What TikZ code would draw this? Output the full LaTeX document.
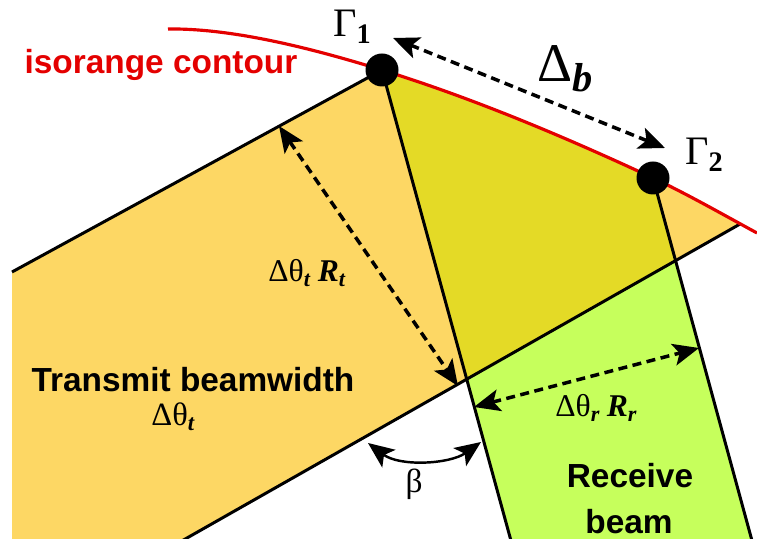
\documentclass[tikz,border=0pt]{standalone}
\usepackage{fontspec}
\setmainfont{Liberation Serif}
\setsansfont{Liberation Sans}
\usetikzlibrary{arrows.meta}

\definecolor{isored}{RGB}{228,0,0}
\definecolor{txfill}{RGB}{253,215,100}
\definecolor{ovfill}{RGB}{228,218,38}
\definecolor{rxfill}{RGB}{198,255,92}

\newcommand{\bisym}[1]{\textbf{\textit{#1}}}
\newcommand{\isorangepath}{(168,510) .. controls (240,511) and (330,485) .. (G1)
    .. controls (472,441) and (563,403) .. (G2) .. controls (688,344.5) and (722,325) .. (757,306)}

\begin{document}
\begin{tikzpicture}[x=0.2mm,y=0.2mm,>={Stealth[length=5.2mm,width=4.4mm,inset=1.2mm]},line join=round,
    edge/.style={line width=1.7pt},
    dimarrow/.style={<->,line width=2pt,dash pattern=on 1.8mm off 1.1mm},
    dot/.style={circle,fill=black,minimum size=6.6mm,inner sep=0pt},
    sanslbl/.style={font=\fontsize{19}{22}\selectfont\sffamily\bfseries,inner sep=0pt},
    greeklbl/.style={font=\fontsize{#1}{#1}\selectfont,inner sep=0pt}]
    \useasboundingbox (0,0) rectangle (757,539);

    % beam edges
    \coordinate (G1) at (382,469);
    \coordinate (G2) at (653,361);
    \coordinate (ul) at (12,267);
    \coordinate (ue) at (800,697);
    \coordinate (lb) at (150,-20);
    \coordinate (le) at (800,349);
    \coordinate (r1t) at (327,669);
    \coordinate (r1b) at (516,-20);
    \coordinate (r2t) at (598,561);
    \coordinate (r2b) at (757,-20);

    \begin{scope}
        \clip \isorangepath -- (800,306) -- (800,-50) -- (-50,-50) -- (-50,510) -- cycle;
        \fill[txfill] (12,-20) -- (ul) -- (ue) -- (le) -- (lb) -- cycle;
        \fill[rxfill] (r1t) -- (r2t) -- (r2b) -- (r1b) -- cycle;
        \begin{scope}
            \clip (12,-20) -- (ul) -- (ue) -- (le) -- (lb) -- cycle;
            \fill[ovfill] (r1t) -- (r2t) -- (r2b) -- (r1b) -- cycle;
        \end{scope}
        \draw[edge] (lb) -- (le);
        \draw[edge] (G1) -- (r1b);
        \draw[edge] (G2) -- (r2b);
    \end{scope}
    \draw[edge] (ul) -- (G1);
    \draw[isored,line width=1.8pt] \isorangepath;

    \foreach \p in {1,2}
        \node[dot] (dot\p) at (G\p) {};

    % widths and angle
    \coordinate (db1) at (393,501);
    \coordinate (db2) at (665,391);
    \coordinate (tw1) at (279,413);
    \coordinate (tw2) at (458,153);
    \coordinate (rw1) at (474,132);
    \coordinate (rw2) at (699,191);
    \coordinate (ba) at (368,96);
    \coordinate (bb) at (481,97);
    \draw[dimarrow] (db1) -- (db2);
    \draw[dimarrow] (tw1) -- (tw2);
    \draw[dimarrow] (rw1) -- (rw2);
    \draw[<->,line width=1.4pt] (ba) .. controls (400,72) and (450,75) .. (bb);

    % labels
    \node[sanslbl,text=isored,anchor=base] (contourlbl) at (161,465) {isorange contour};
    \node[sanslbl,anchor=base] (txlbl) at (193,147) {Transmit beamwidth};
    \node[sanslbl,anchor=base] (rxlbl) at (630,51) {Receive};
    \node[sanslbl,anchor=base] (beamlbl) at (629,5) {beam};
    \node[greeklbl=23,anchor=base west] (g1lbl) at (333,502) {Γ\textsubscript{\textbf{1}}};
    \node[greeklbl=23,anchor=base west] (g2lbl) at (685,374) {Γ\textsubscript{\textbf{2}}};
    \node[greeklbl=31,anchor=base west] (dblbl) at (537,457) {Δ\raisebox{-5.5pt}{\fontsize{23}{23}\selectfont\bisym{b}}};
    \node[greeklbl=18,anchor=base west] (dtrtlbl) at (268,257) {Δθ\textsubscript{\bisym{t}}\hspace{0.2em}\bisym{R}\textsubscript{\bisym{t}}};
    \node[greeklbl=18.5,anchor=base west] (dtlbl) at (151,113) {Δθ\textsubscript{\bisym{t}}};
    \node[greeklbl=18,anchor=base west] (drrrlbl) at (555,122) {Δθ\textsubscript{\bisym{r}}\hspace{0.2em}\bisym{R}\textsubscript{\bisym{r}}};
    \node[greeklbl=19,anchor=base] (betalbl) at (414,46) {β};
\end{tikzpicture}
\end{document}
